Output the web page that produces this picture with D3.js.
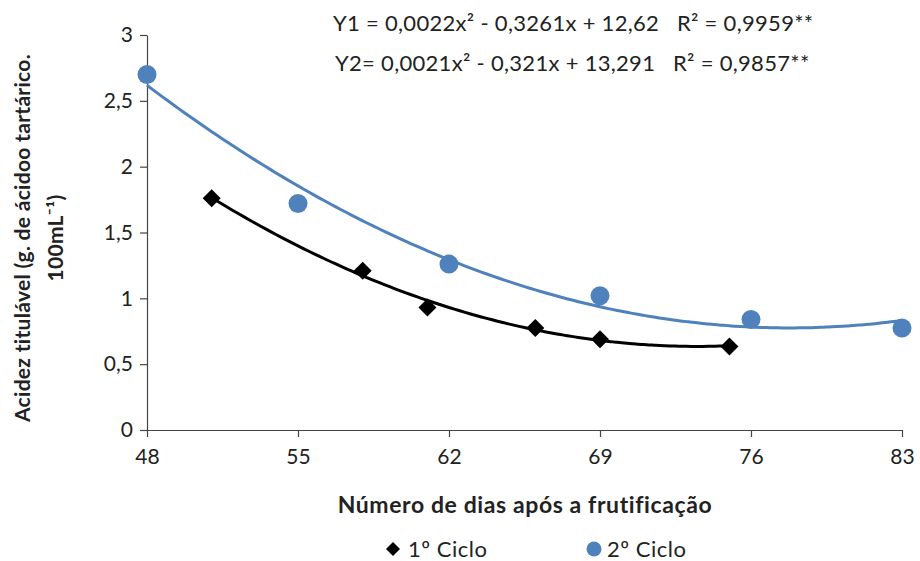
<!DOCTYPE html>
<html>
<head>
<meta charset="utf-8">
<script src="https://cdn.jsdelivr.net/npm/d3@7"></script>
<style>
  body { margin: 0; background: #fff; }
  text { font-family: Lato, "Open Sans", sans-serif; fill: #222; }
</style>
</head>
<body>
<div id="chart"></div>
<script>
// days after fruit set
const days1 = [51, 58, 61, 66, 69, 75];
const acid1 = [1.76, 1.21, 0.93, 0.775, 0.69, 0.635];
const days2 = [48, 55, 62, 69, 76, 83];
const acid2 = [2.70, 1.72, 1.26, 1.02, 0.84, 0.775];
const xTicks = [48, 55, 62, 69, 76, 83];
const yTicks = [0, 0.5, 1, 1.5, 2, 2.5, 3];
const eq1 = "Y1 = 0,0022x² - 0,3261x + 12,62   R² = 0,9959**";
const eq2 = "Y2= 0,0021x² - 0,321x + 13,291   R² = 0,9857**";
const seriesNames = ["1º Ciclo", "2º Ciclo"];

const width = 920, height = 561,
    margin = { top: 35, right: 18, bottom: 131, left: 147 };

const blue = "#4F81BD";

// quadratic least squares, same as the excel trendline
function polyFit(xs, ys) {
    let s = [0, 0, 0, 0, 0], t = [0, 0, 0];
    xs.forEach((x, i) => {
        for (let k = 0; k < 5; k++) s[k] += Math.pow(x, k);
        for (let k = 0; k < 3; k++) t[k] += ys[i] * Math.pow(x, k);
    });
    let m = [
        [s[0], s[1], s[2], t[0]],
        [s[1], s[2], s[3], t[1]],
        [s[2], s[3], s[4], t[2]]
    ];
    for (let i = 0; i < 3; i++) {
        for (let j = i + 1; j < 3; j++) {
            let f = m[j][i] / m[i][i];
            for (let k = i; k < 4; k++) m[j][k] -= f * m[i][k];
        }
    }
    let c = [0, 0, 0];
    for (let i = 2; i >= 0; i--) {
        let v = m[i][3];
        for (let k = i + 1; k < 3; k++) v -= m[i][k] * c[k];
        c[i] = v / m[i][i];
    }
    return (x) => c[0] + c[1] * x + c[2] * x * x;
}

const svg = d3.select("#chart")
    .append("svg")
    .attr("width", width)
    .attr("height", height);

let x = d3.scaleLinear()
    .domain([48, 83])
    .range([margin.left, width - margin.right]);

let y = d3.scaleLinear()
    .domain([0, 3])
    .range([height - margin.bottom, margin.top]);

// axes
let xAxis = svg.append("g")
    .attr("transform", `translate(0,${height - margin.bottom})`)
    .call(d3.axisBottom(x).tickValues(xTicks).tickSize(7).tickPadding(12).tickSizeOuter(0));
let yAxis = svg.append("g")
    .attr("transform", `translate(${margin.left},0)`)
    .call(d3.axisLeft(y).tickValues(yTicks).tickSize(7).tickPadding(7).tickSizeOuter(0)
        .tickFormat((d) => String(d).replace(".", ",")));
for (let ax of [xAxis, yAxis]) {
    ax.select(".domain").attr("stroke", "#444").attr("stroke-width", 1.2);
    ax.selectAll(".tick line").attr("stroke", "#444").attr("stroke-width", 1.2);
    ax.selectAll(".tick text")
        .style("font-family", "Lato, sans-serif")
        .style("font-size", "21px")
        .attr("fill", "#333");
}

// trend lines
let line = d3.line()
    .x((d) => x(d[0]))
    .y((d) => y(d[1]))
    .curve(d3.curveMonotoneX);

let sets = [
    { xs: days1, ys: acid1, color: "#000" },
    { xs: days2, ys: acid2, color: blue }
];
for (let s of sets) {
    let f = polyFit(s.xs, s.ys);
    let [lo, hi] = d3.extent(s.xs);
    let pts = d3.range(lo, hi + 0.001, 0.25).map((v) => [v, f(v)]);
    svg.append("path")
        .datum(pts)
        .attr("fill", "none")
        .attr("stroke", s.color)
        .attr("stroke-width", 3)
        .attr("d", line);
}

// markers
svg.append("g").selectAll("path")
    .data(days1.map((d, i) => [d, acid1[i]]))
    .join("path")
    .attr("d", "M0,-9L9,0L0,9L-9,0Z")
    .attr("transform", (d) => `translate(${x(d[0])},${y(d[1])})`)
    .attr("fill", "#000");

svg.append("g").selectAll("circle")
    .data(days2.map((d, i) => [d, acid2[i]]))
    .join("circle")
    .attr("cx", (d) => x(d[0]))
    .attr("cy", (d) => y(d[1]))
    .attr("r", 9.5)
    .attr("fill", blue);

// equations
svg.append("text")
    .attr("x", 333).attr("y", 31)
    .style("font-size", "22px")
    .style("letter-spacing", "0.3px")
    .attr("xml:space", "preserve")
    .text(eq1);
svg.append("text")
    .attr("x", 335).attr("y", 71)
    .style("font-size", "22px")
    .style("letter-spacing", "0.3px")
    .attr("xml:space", "preserve")
    .text(eq2);

// axis titles
svg.append("text")
    .attr("x", 525)
    .attr("y", 513)
    .attr("text-anchor", "middle")
    .style("font-size", "23px")
    .style("letter-spacing", "0.6px")
    .style("font-weight", "bold")
    .text("Número de dias após a frutificação");

let yl = svg.append("text")
    .attr("transform", "translate(30,238) rotate(-90)")
    .attr("text-anchor", "middle")
    .style("font-size", "21px")
    .style("letter-spacing", "0.3px")
    .style("font-weight", "bold");
yl.append("tspan").attr("x", 0).attr("dy", 0).text("Acidez titulável (g. de ácidoo tartárico.");
yl.append("tspan").attr("x", 0).attr("dy", 33).text("100mL⁻¹)");

// legend
let lg = svg.append("g").attr("transform", "translate(0,549)");
lg.append("path").attr("d", "M0,-7L7,0L0,7L-7,0Z")
    .attr("transform", "translate(393,0)").attr("fill", "#000");
lg.append("text").attr("x", 408).attr("y", 8).style("font-size", "22px")
    .style("letter-spacing", "0.5px").text(seriesNames[0]);
lg.append("circle").attr("cx", 594).attr("cy", 0).attr("r", 7.5).attr("fill", blue);
lg.append("text").attr("x", 607).attr("y", 8).style("font-size", "22px")
    .style("letter-spacing", "0.5px").text(seriesNames[1]);
</script>
</body>
</html>
